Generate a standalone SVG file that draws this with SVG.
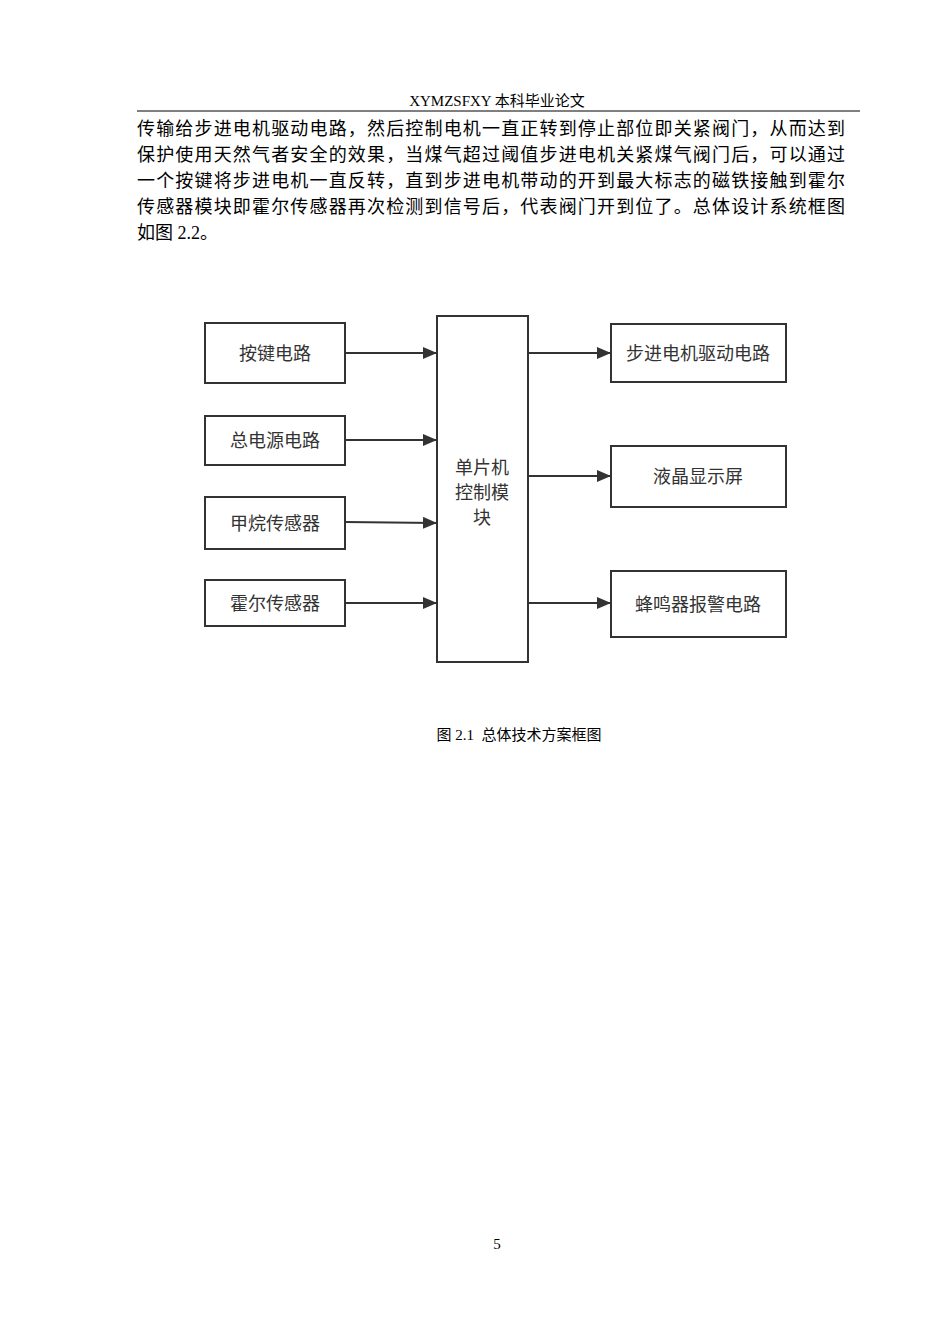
<svg xmlns="http://www.w3.org/2000/svg" width="950" height="1344" viewBox="0 0 950 1344">
<style>
.p{font-family:"Liberation Serif","Noto Sans CJK SC",serif;font-size:18px;fill:#000}
.s{font-family:"Liberation Serif","Noto Sans CJK SC",serif;font-size:15px;fill:#000}
.b{fill:#fff;stroke:#333;stroke-width:2}
.t{font-family:"Noto Sans CJK SC",sans-serif;font-size:18px;fill:#333;text-anchor:middle}
.c line{stroke:#333;stroke-width:2;marker-end:url(#a)}
</style>
<defs><marker id="a" markerWidth="14" markerHeight="12" refX="13" refY="6" orient="auto" markerUnits="userSpaceOnUse"><path d="M0,0L14,6L0,12Z" fill="#333"/></marker></defs>
<rect width="950" height="1344" fill="#fff"/>
<text class="s" x="497" y="106" text-anchor="middle">XYMZSFXY 本科毕业论文</text>
<line x1="137" y1="111" x2="860" y2="111" stroke="#000" stroke-width="1"/>
<text class="p" x="137" y="135" textLength="708" lengthAdjust="spacing">传输给步进电机驱动电路，然后控制电机一直正转到停止部位即关紧阀门，从而达到</text>
<text class="p" x="137" y="161" textLength="708" lengthAdjust="spacing">保护使用天然气者安全的效果，当煤气超过阈值步进电机关紧煤气阀门后，可以通过</text>
<text class="p" x="137" y="187" textLength="708" lengthAdjust="spacing">一个按键将步进电机一直反转，直到步进电机带动的开到最大标志的磁铁接触到霍尔</text>
<text class="p" x="137" y="213" textLength="708" lengthAdjust="spacing">传感器模块即霍尔传感器再次检测到信号后，代表阀门开到位了。总体设计系统框图</text>
<text class="p" x="137" y="239">如图 2.2。</text>
<g id="n1"><rect class="b" x="205" y="323" width="140" height="60"/><text class="t" x="275" y="360">按键电路</text></g>
<g id="n2"><rect class="b" x="205" y="416" width="140" height="49"/><text class="t" x="275" y="447">总电源电路</text></g>
<g id="n3"><rect class="b" x="205" y="497" width="140" height="52"/><text class="t" x="275" y="530">甲烷传感器</text></g>
<g id="n4"><rect class="b" x="205" y="580" width="140" height="46"/><text class="t" x="275" y="610">霍尔传感器</text></g>
<g id="mcu"><rect class="b" x="437" y="316" width="91" height="346"/><text class="t" x="482" y="474">单片机</text><text class="t" x="482" y="499">控制模</text><text class="t" x="482" y="524">块</text></g>
<g id="r1"><rect class="b" x="611" y="324" width="175" height="58"/><text class="t" x="698" y="360">步进电机驱动电路</text></g>
<g id="r2"><rect class="b" x="611" y="446" width="175" height="61"/><text class="t" x="698" y="483">液晶显示屏</text></g>
<g id="r3"><rect class="b" x="611" y="571" width="175" height="66"/><text class="t" x="698" y="611">蜂鸣器报警电路</text></g>
<g class="c">
<line x1="345" y1="353" x2="436" y2="353"/>
<line x1="345" y1="440" x2="436" y2="440"/>
<line x1="345" y1="522" x2="436" y2="523"/>
<line x1="345" y1="603" x2="436" y2="603"/>
<line x1="528" y1="353" x2="610" y2="353"/>
<line x1="528" y1="476" x2="610" y2="476"/>
<line x1="528" y1="603" x2="610" y2="603"/>
</g>
<text class="s" x="519" y="740" text-anchor="middle" xml:space="preserve">图 2.1  总体技术方案框图</text>
<text class="s" x="497" y="1249" text-anchor="middle">5</text>
</svg>
